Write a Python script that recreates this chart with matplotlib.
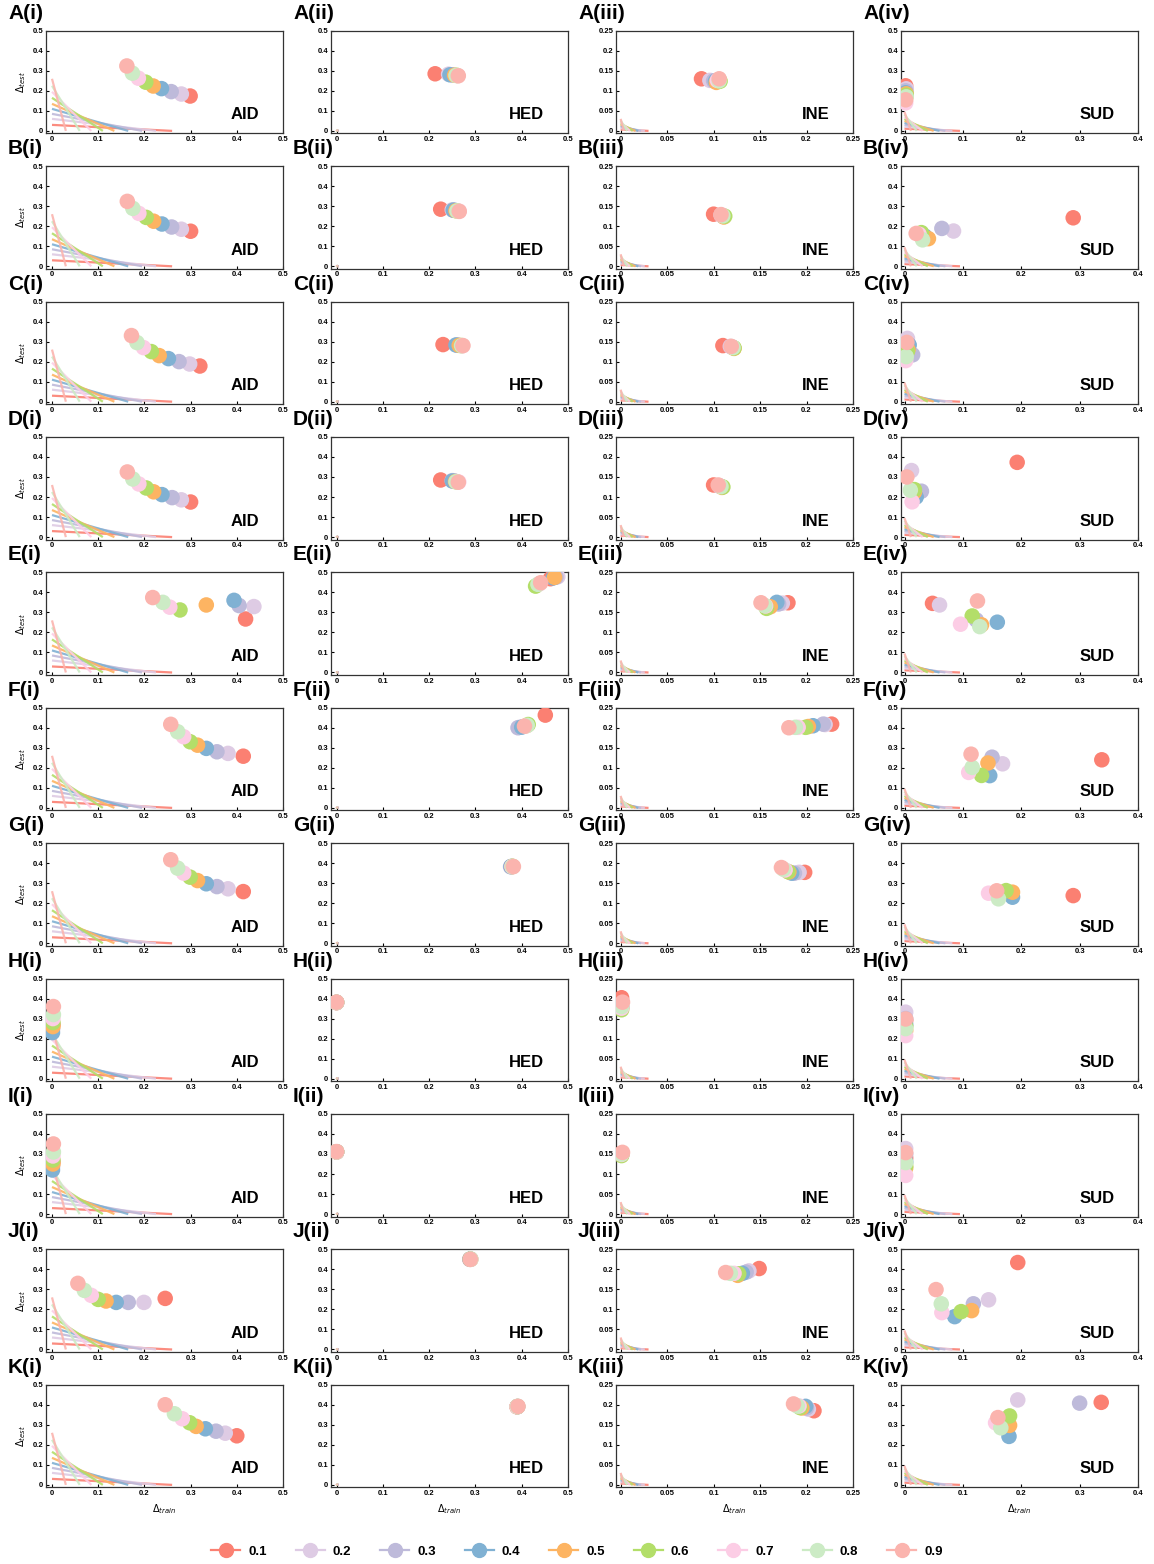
import numpy as np
import matplotlib
matplotlib.use("Agg")
import matplotlib.pyplot as plt
from matplotlib.lines import Line2D
from matplotlib.ticker import FuncFormatter, MultipleLocator

plt.rcParams['font.family'] = ['Liberation Sans', 'DejaVu Sans']

# alpha levels and their colours
levels = ['0.1', '0.2', '0.3', '0.4', '0.5', '0.6', '0.7', '0.8', '0.9']
colors = ['#FB8072', '#DECBE4', '#BEBADA', '#80B1D3', '#FDB462',
          '#B3DE69', '#FCCDE5', '#CCEBC5', '#FBB4AE']

rows = ['A', 'B', 'C', 'D', 'E', 'F', 'G', 'H', 'I', 'J', 'K']
cols = ['i', 'ii', 'iii', 'iv']
datasets = ['AID', 'HED', 'INE', 'SUD']

# AID (column i): delta_train / delta_test per row, per alpha 0.1..0.9
aid_x = [
    [0.299, 0.280, 0.258, 0.237, 0.219, 0.203, 0.187, 0.174, 0.162],
    [0.300, 0.280, 0.259, 0.238, 0.220, 0.204, 0.188, 0.175, 0.163],
    [0.320, 0.298, 0.275, 0.252, 0.232, 0.215, 0.198, 0.184, 0.172],
    [0.300, 0.280, 0.260, 0.238, 0.220, 0.204, 0.188, 0.175, 0.163],
    [0.419, 0.437, 0.405, 0.394, 0.334, 0.277, 0.255, 0.240, 0.218],
    [0.414, 0.381, 0.357, 0.334, 0.315, 0.299, 0.285, 0.272, 0.257],
    [0.414, 0.381, 0.357, 0.334, 0.315, 0.299, 0.285, 0.272, 0.257],
    [0.002, 0.001, 0.001, 0.001, 0.002, 0.002, 0.002, 0.003, 0.003],
    [0.002, 0.001, 0.001, 0.001, 0.002, 0.002, 0.002, 0.003, 0.003],
    [0.245, 0.199, 0.165, 0.139, 0.117, 0.100, 0.085, 0.070, 0.056],
    [0.400, 0.375, 0.355, 0.332, 0.312, 0.298, 0.282, 0.265, 0.245],
]
aid_y = [
    [0.174, 0.184, 0.196, 0.211, 0.224, 0.243, 0.263, 0.288, 0.324],
    [0.175, 0.185, 0.196, 0.211, 0.225, 0.244, 0.264, 0.289, 0.324],
    [0.178, 0.188, 0.200, 0.215, 0.230, 0.250, 0.270, 0.295, 0.330],
    [0.175, 0.186, 0.197, 0.212, 0.226, 0.245, 0.265, 0.290, 0.325],
    [0.267, 0.329, 0.334, 0.360, 0.337, 0.312, 0.326, 0.350, 0.374],
    [0.258, 0.272, 0.280, 0.297, 0.313, 0.330, 0.355, 0.380, 0.417],
    [0.258, 0.272, 0.283, 0.297, 0.313, 0.330, 0.350, 0.375, 0.417],
    [0.270, 0.250, 0.245, 0.230, 0.260, 0.280, 0.300, 0.320, 0.360],
    [0.260, 0.240, 0.235, 0.220, 0.250, 0.270, 0.290, 0.310, 0.350],
    [0.255, 0.235, 0.235, 0.235, 0.242, 0.250, 0.270, 0.295, 0.330],
    [0.245, 0.258, 0.268, 0.280, 0.292, 0.310, 0.330, 0.355, 0.400],
]

# HED (column ii)
hed_x = [
    [0.213, 0.242, 0.250, 0.245, 0.255, 0.260, 0.262, 0.258, 0.263],
    [0.225, 0.250, 0.255, 0.252, 0.258, 0.262, 0.265, 0.260, 0.265],
    [0.230, 0.260, 0.262, 0.258, 0.265, 0.270, 0.272, 0.270, 0.273],
    [0.225, 0.250, 0.255, 0.250, 0.257, 0.260, 0.264, 0.258, 0.263],
    [0.462, 0.478, 0.474, 0.468, 0.471, 0.430, 0.438, 0.435, 0.441],
    [0.451, 0.395, 0.392, 0.400, 0.410, 0.414, 0.410, 0.412, 0.406],
    [0.380, 0.378, 0.376, 0.377, 0.379, 0.380, 0.379, 0.380, 0.382],
    [0.000, 0.000, 0.000, 0.000, 0.000, 0.000, 0.000, 0.000, 0.000],
    [0.000, 0.000, 0.000, 0.000, 0.000, 0.000, 0.000, 0.000, 0.000],
    [0.288, 0.289, 0.288, 0.289, 0.290, 0.289, 0.290, 0.290, 0.289],
    [0.390, 0.391, 0.390, 0.391, 0.390, 0.391, 0.390, 0.391, 0.392],
]
hed_y = [
    [0.285, 0.283, 0.280, 0.280, 0.278, 0.277, 0.276, 0.277, 0.275],
    [0.285, 0.282, 0.280, 0.280, 0.277, 0.276, 0.275, 0.276, 0.274],
    [0.285, 0.283, 0.282, 0.283, 0.281, 0.280, 0.279, 0.280, 0.280],
    [0.285, 0.282, 0.280, 0.280, 0.277, 0.276, 0.275, 0.276, 0.274],
    [0.468, 0.478, 0.476, 0.472, 0.475, 0.431, 0.442, 0.440, 0.448],
    [0.463, 0.402, 0.400, 0.403, 0.410, 0.416, 0.410, 0.412, 0.408],
    [0.383, 0.383, 0.382, 0.383, 0.383, 0.384, 0.383, 0.383, 0.383],
    [0.380, 0.381, 0.380, 0.381, 0.380, 0.381, 0.380, 0.381, 0.382],
    [0.310, 0.311, 0.310, 0.311, 0.310, 0.311, 0.310, 0.311, 0.312],
    [0.450, 0.451, 0.450, 0.451, 0.450, 0.451, 0.450, 0.451, 0.450],
    [0.390, 0.391, 0.390, 0.391, 0.390, 0.391, 0.390, 0.391, 0.392],
]

# INE (column iii)
ine_x = [
    [0.087, 0.096, 0.100, 0.102, 0.103, 0.107, 0.104, 0.106, 0.106],
    [0.100, 0.108, 0.110, 0.110, 0.111, 0.112, 0.109, 0.110, 0.108],
    [0.110, 0.118, 0.120, 0.121, 0.122, 0.122, 0.120, 0.121, 0.119],
    [0.100, 0.106, 0.107, 0.108, 0.109, 0.110, 0.107, 0.108, 0.105],
    [0.180, 0.174, 0.170, 0.168, 0.161, 0.157, 0.156, 0.155, 0.151],
    [0.227, 0.220, 0.218, 0.207, 0.202, 0.199, 0.191, 0.188, 0.181],
    [0.198, 0.192, 0.187, 0.184, 0.181, 0.180, 0.177, 0.175, 0.173],
    [0.001, 0.001, 0.001, 0.001, 0.001, 0.001, 0.001, 0.001, 0.002],
    [0.001, 0.001, 0.001, 0.001, 0.001, 0.001, 0.001, 0.001, 0.002],
    [0.149, 0.138, 0.135, 0.131, 0.126, 0.127, 0.122, 0.118, 0.113],
    [0.208, 0.202, 0.200, 0.199, 0.195, 0.193, 0.192, 0.190, 0.186],
]
ine_y = [
    [0.130, 0.126, 0.125, 0.124, 0.121, 0.124, 0.126, 0.125, 0.130],
    [0.130, 0.128, 0.126, 0.125, 0.123, 0.125, 0.127, 0.126, 0.129],
    [0.140, 0.138, 0.136, 0.135, 0.133, 0.134, 0.136, 0.135, 0.138],
    [0.130, 0.128, 0.127, 0.126, 0.124, 0.125, 0.127, 0.126, 0.130],
    [0.174, 0.173, 0.171, 0.175, 0.164, 0.160, 0.166, 0.167, 0.174],
    [0.209, 0.208, 0.209, 0.205, 0.203, 0.201, 0.201, 0.201, 0.200],
    [0.177, 0.177, 0.175, 0.175, 0.178, 0.179, 0.183, 0.185, 0.189],
    [0.202, 0.185, 0.180, 0.178, 0.175, 0.172, 0.176, 0.180, 0.191],
    [0.152, 0.150, 0.149, 0.148, 0.147, 0.146, 0.149, 0.150, 0.154],
    [0.202, 0.196, 0.193, 0.190, 0.185, 0.189, 0.190, 0.190, 0.192],
    [0.185, 0.189, 0.192, 0.196, 0.192, 0.193, 0.197, 0.197, 0.202],
]

# SUD (column iv)
sud_x = [
    [0.002, 0.003, 0.002, 0.002, 0.003, 0.003, 0.002, 0.003, 0.002],
    [0.289, 0.084, 0.064, 0.035, 0.041, 0.029, 0.025, 0.031, 0.020],
    [0.002, 0.005, 0.014, 0.008, 0.006, 0.005, 0.002, 0.003, 0.004],
    [0.193, 0.012, 0.029, 0.020, 0.017, 0.017, 0.013, 0.010, 0.004],
    [0.048, 0.060, 0.123, 0.159, 0.132, 0.116, 0.096, 0.129, 0.125],
    [0.338, 0.168, 0.150, 0.146, 0.143, 0.132, 0.110, 0.116, 0.114],
    [0.289, 0.180, 0.178, 0.185, 0.185, 0.174, 0.144, 0.161, 0.158],
    [0.002, 0.002, 0.002, 0.002, 0.002, 0.002, 0.002, 0.002, 0.002],
    [0.002, 0.002, 0.002, 0.002, 0.002, 0.002, 0.002, 0.002, 0.002],
    [0.194, 0.144, 0.118, 0.086, 0.115, 0.097, 0.064, 0.063, 0.054],
    [0.337, 0.194, 0.300, 0.179, 0.180, 0.180, 0.156, 0.165, 0.160],
]
sud_y = [
    [0.225, 0.210, 0.200, 0.190, 0.185, 0.178, 0.140, 0.170, 0.155],
    [0.242, 0.176, 0.189, 0.150, 0.138, 0.168, 0.160, 0.132, 0.164],
    [0.305, 0.316, 0.234, 0.283, 0.260, 0.250, 0.205, 0.225, 0.296],
    [0.373, 0.332, 0.229, 0.200, 0.225, 0.237, 0.176, 0.234, 0.300],
    [0.345, 0.337, 0.262, 0.251, 0.238, 0.282, 0.241, 0.229, 0.357],
    [0.240, 0.220, 0.253, 0.161, 0.224, 0.162, 0.177, 0.202, 0.268],
    [0.238, 0.245, 0.250, 0.230, 0.255, 0.263, 0.250, 0.222, 0.262],
    [0.290, 0.332, 0.300, 0.270, 0.240, 0.260, 0.215, 0.250, 0.298],
    [0.280, 0.327, 0.300, 0.260, 0.230, 0.240, 0.193, 0.257, 0.307],
    [0.434, 0.248, 0.228, 0.164, 0.194, 0.189, 0.184, 0.228, 0.299],
    [0.412, 0.424, 0.408, 0.242, 0.297, 0.344, 0.310, 0.285, 0.336],
]

# reference lines near the origin: (0, y0) -> (x0, 0), per column, per alpha
ref_y0 = [
    [0.030, 0.060, 0.085, 0.110, 0.135, 0.165, 0.195, 0.225, 0.260],
    [0.0006, 0.0012, 0.0017, 0.0022, 0.0027, 0.0033, 0.0039, 0.0045, 0.0052],
    [0.0035, 0.007, 0.010, 0.013, 0.016, 0.019, 0.022, 0.026, 0.030],
    [0.011, 0.021, 0.031, 0.040, 0.050, 0.060, 0.070, 0.082, 0.095],
]
ref_x0 = [
    [0.260, 0.225, 0.195, 0.165, 0.135, 0.110, 0.085, 0.060, 0.030],
    [0.0052, 0.0045, 0.0039, 0.0033, 0.0027, 0.0022, 0.0017, 0.0012, 0.0006],
    [0.030, 0.026, 0.022, 0.019, 0.016, 0.013, 0.010, 0.007, 0.0035],
    [0.095, 0.082, 0.070, 0.060, 0.050, 0.040, 0.031, 0.021, 0.011],
]

col_x = [aid_x, hed_x, ine_x, sud_x]
col_y = [aid_y, hed_y, ine_y, sud_y]
xmax = [0.5, 0.5, 0.25, 0.4]
ymax = [0.5, 0.5, 0.25, 0.5]
xstep = [0.1, 0.1, 0.05, 0.1]
ystep = [0.1, 0.1, 0.05, 0.1]
xpad = [0.013, 0.012, 0.005, 0.006]

W, H = 1154, 1564
fig = plt.figure(figsize=(W / 100, H / 100), dpi=100)

ax_left = [46, 331, 616, 901]
ax_w = 237
ax_h = 102.6
top0 = 30.7
pitch = 135.4

fmt = FuncFormatter(lambda v, p: f'{v:g}')

for r, row in enumerate(rows):
    for c in range(4):
        top = top0 + r * pitch
        ax = fig.add_axes([ax_left[c] / W, 1 - (top + ax_h) / H, ax_w / W, ax_h / H])

        for k in range(9):
            ax.plot([0, ref_x0[c][k]], [ref_y0[c][k], 0], color=colors[k],
                    lw=1.6, alpha=0.9, solid_capstyle='butt', zorder=2)
        for k in range(9):
            ax.scatter(col_x[c][r][k], col_y[c][r][k], s=125, color=colors[k],
                       edgecolors='none', zorder=3)

        ax.set_xlim(-xpad[c], xmax[c])
        ax.set_ylim(-0.024 * ymax[c], ymax[c])
        ax.xaxis.set_major_locator(MultipleLocator(xstep[c]))
        ax.yaxis.set_major_locator(MultipleLocator(ystep[c]))
        ax.xaxis.set_major_formatter(fmt)
        ax.yaxis.set_major_formatter(fmt)
        ax.tick_params(direction='in', length=2.5, width=0.8, labelsize=5.5, pad=2)
        for lab in ax.get_xticklabels() + ax.get_yticklabels():
            lab.set_fontweight('bold')
        for sp in ax.spines.values():
            sp.set_linewidth(0.9)
            sp.set_color('#333333')

        ax.text(0.9, 0.18, datasets[c], transform=ax.transAxes, ha='right',
                va='center', fontsize=12, fontweight='bold')
        fig.text((ax_left[c] - 38) / W, 1 - (top - 27) / H, f'{row}({cols[c]})',
                 ha='left', va='top', fontsize=15, fontweight='bold')

        if c == 0:
            ax.set_ylabel(r'$\Delta_{test}$', fontsize=7, labelpad=3)
        if r == len(rows) - 1:
            ax.set_xlabel(r'$\Delta_{train}$', fontsize=7, labelpad=4)

handles = [Line2D([0], [0], color=colors[k], marker='o', markersize=10, lw=1.6)
           for k in range(9)]
fig.legend(handles, levels, loc='center', ncol=9, frameon=False,
           bbox_to_anchor=(0.5, 1 - 1552 / H), prop={'weight': 'bold', 'size': 9.5},
           handlelength=2.2, columnspacing=2.2, handletextpad=0.6)

fig.savefig('out.png', dpi=100)
